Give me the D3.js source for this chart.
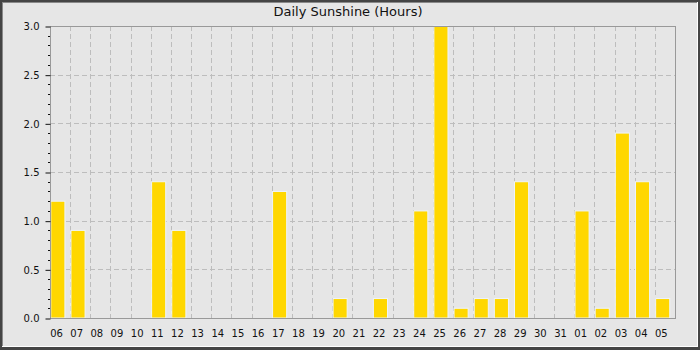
<!DOCTYPE html>
<html>
<head>
<meta charset="utf-8">
<script src="https://cdn.jsdelivr.net/npm/d3@7"></script>
<style>
  body { margin: 0; background: #e6e6e6; }
  svg { display: block; font-family: "DejaVu Sans", sans-serif; }
</style>
</head>
<body>
<svg id="chart"></svg>
<script>
/* chart data */
var days = ['06', '07', '08', '09', '10', '11', '12', '13', '14', '15', '16', '17', '18', '19', '20', '21',
            '22', '23', '24', '25', '26', '27', '28', '29', '30', '31', '01', '02', '03', '04', '05'];
var sunshine = [1.2, 0.9, 0, 0, 0, 1.4, 0.9, 0, 0, 0, 0, 1.3, 0, 0, 0.2, 0,
                0.2, 0, 1.1, 3.0, 0.1, 0.2, 0.2, 1.4, 0, 0, 1.1, 0.1, 1.9, 1.4, 0.2];
var yTicks = [0, 0.5, 1.0, 1.5, 2.0, 2.5, 3.0];
var title = 'Daily Sunshine (Hours)';

var width = 700;
var height = 350;
/* plot area (note: "top" is taken by window.top) */
var plotLeft = 50, plotRight = 675, plotTop = 26, plotBottom = 318;

var svg = d3.select('#chart')
    .attr('width', width)
    .attr('height', height);

/* outer border */
svg.append('rect').attr('width', width).attr('height', height).attr('fill', '#454545');
svg.append('rect').attr('x', 2).attr('y', 2).attr('width', 696).attr('height', 345).attr('fill', '#ffffff');
svg.append('rect').attr('x', 2).attr('y', 2).attr('width', 695).attr('height', 344).attr('fill', '#8a8a8a');
svg.append('rect').attr('x', 3).attr('y', 3).attr('width', 694).attr('height', 343).attr('fill', '#e6e6e6');

var x = d3.scaleBand()
    .domain(days)
    .range([plotLeft, plotRight])
    .padding(0);

var y = d3.scaleLinear()
    .domain([0, 3])
    .range([plotBottom, plotTop]);

/* dashed grid */
var grid = svg.append('g')
    .attr('stroke', '#bdbdbd')
    .attr('stroke-width', 1)
    .attr('stroke-dasharray', '5,3');

grid.selectAll('line.h')
    .data(yTicks.slice(1, -1))
    .enter()
    .append('line')
    .attr('class', 'h')
    .attr('x1', plotLeft)
    .attr('x2', plotRight)
    .attr('y1', function(d){ return Math.round(y(d)) + 0.5; })
    .attr('y2', function(d){ return Math.round(y(d)) + 0.5; });

grid.selectAll('line.v')
    .data(days.slice(1))
    .enter()
    .append('line')
    .attr('class', 'v')
    .attr('x1', function(d){ return Math.round(x(d)) + 0.5; })
    .attr('x2', function(d){ return Math.round(x(d)) + 0.5; })
    .attr('y1', plotTop)
    .attr('y2', plotBottom);

/* bars - pair each value with its day, skip the empty days */
var bars = days.map(function(d, i){
    return {day: d, value: sunshine[i]};
}).filter(function(d){ return d.value > 0; });

svg.selectAll('rect.bar')
    .data(bars)
    .enter()
    .append('rect')
    .attr('class', 'bar')
    .attr('x', function(d){ return x(d.day) + 0.8; })
    .attr('width', x.bandwidth() * 0.7)
    .attr('y', function(d){ return y(d.value); })
    .attr('height', function(d){ return plotBottom - y(d.value); })
    .attr('fill', '#ffd700')
    .attr('stroke', '#eef4fb')
    .attr('stroke-width', 1);

/* frame */
svg.append('rect')
    .attr('x', plotLeft + 0.5)
    .attr('y', plotTop + 0.5)
    .attr('width', plotRight - plotLeft)
    .attr('height', plotBottom - plotTop)
    .attr('fill', 'none')
    .attr('stroke', '#999999');

/* y axis */
var yAxis = d3.axisLeft(y)
    .tickValues(yTicks)
    .tickFormat(d3.format('.1f'))
    .tickSize(5)
    .tickPadding(6);

var yg = svg.append('g')
    .attr('transform', 'translate(' + (plotLeft + 0.5) + ',0.5)')
    .call(yAxis);
yg.select('.domain').remove();
yg.selectAll('text').attr('font-size', 10).attr('fill', '#111').attr('font-family', '"DejaVu Sans", sans-serif');
yg.selectAll('line').attr('stroke', '#111');

var minor = d3.range(0, 30).map(function(i){ return i / 10; })
    .filter(function(d, i){ return i % 5 !== 0; });
svg.append('g')
    .selectAll('line')
    .data(minor)
    .enter()
    .append('line')
    .attr('x1', plotLeft - 2)
    .attr('x2', plotLeft)
    .attr('y1', function(d){ return Math.round(y(d)) + 0.5; })
    .attr('y2', function(d){ return Math.round(y(d)) + 0.5; })
    .attr('stroke', '#111');

/* x labels */
svg.append('g')
    .selectAll('text')
    .data(days)
    .enter()
    .append('text')
    .attr('x', function(d){ return x(d) + 6.5; })
    .attr('y', 337)
    .attr('text-anchor', 'middle')
    .attr('font-size', 10)
    .attr('fill', '#111')
    .text(function(d){ return d; });

/* title */
svg.append('text')
    .attr('x', 348)
    .attr('y', 16)
    .attr('text-anchor', 'middle')
    .attr('font-size', 13)
    .attr('fill', '#111')
    .text(title);
</script>
</body>
</html>
